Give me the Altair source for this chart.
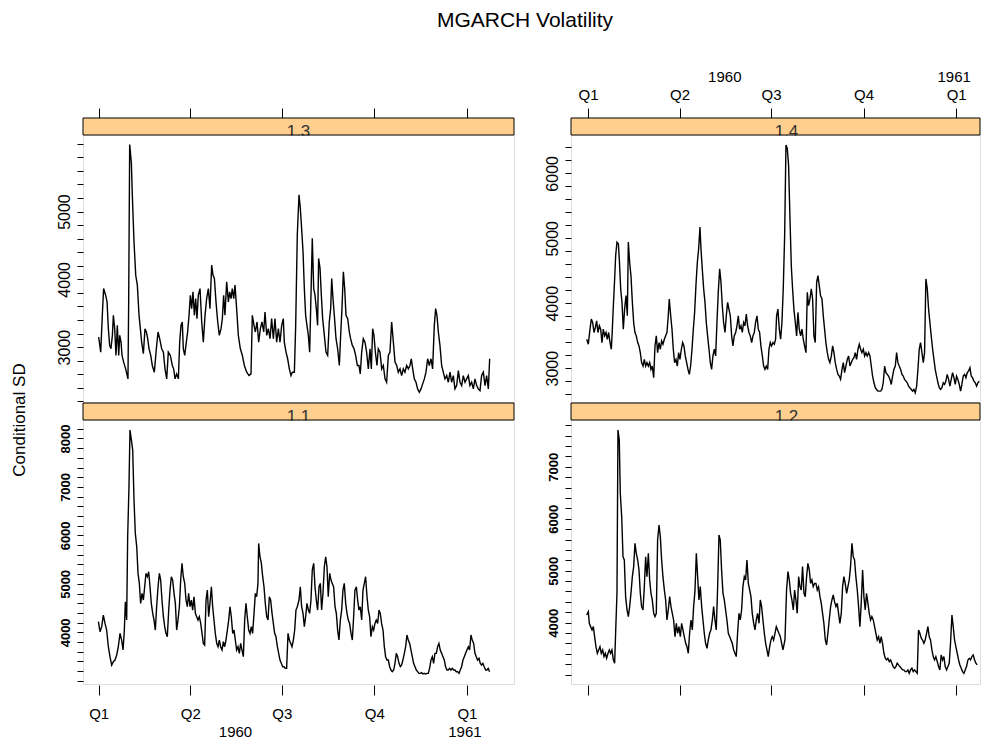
import altair as alt
import pandas as pd

FONT = "Liberation Sans"
STRIP_FILL = "#FFCF8F"

Q_DAYS = [0, 91, 182, 274, 366]
Q_LABELS = ["Q1", "Q2", "Q3", "Q4", "Q1"]
YEAR_DAYS = [136, 364]
YEAR_LABELS = ["1960", "1961"]

# (days since 1960-01-01, conditional SD)
P13 = [(0.0,3149),(2.0,2926),(3.6,3469),(4.9,3864),(6.9,3766),(8.3,3667),(9.6,3272),(10.9,3025),(12.2,2976),(13.6,3173),(14.6,3469),(15.9,3272),(17.2,2877),(18.5,3321),(19.9,2877),(20.9,3173),(22.2,3074),(23.2,2877),(24.8,2778),(26.8,2679),(29.1,2531),(29.8,3667),(30.8,5988),(32.5,5716),(33.4,5247),(35.1,4556),(36.8,4062),(38.4,3914),(40.1,3469),(41.4,3272),(42.7,3074),(44.4,2902),(46.0,3272),(47.4,3223),(48.7,3124),(50.0,2976),(51.7,2877),(53.3,2729),(55.3,2630),(57.3,2976),(59.0,3223),(60.6,3124),(62.6,2976),(64.3,2926),(65.9,2679),(67.6,2531),(69.2,2926),(71.2,2877),(73.2,2729),(74.5,2679),(75.9,2531),(77.5,2605),(79.2,2531),(80.5,3074),(81.8,3321),(83.1,3371),(84.1,2976),(85.5,2877),(87.1,3074),(88.4,3223),(89.8,3469),(91.1,3766),(92.4,3568),(93.7,3815),(95.1,3469),(96.4,3716),(97.7,3420),(99.0,3766),(100.7,3864),(102.4,3371),(104.0,3074),(105.7,3469),(107.3,3716),(109.0,3864),(110.6,3568),(112.3,4210),(113.6,4062),(115.0,4013),(116.6,3667),(118.3,3371),(119.9,3173),(121.6,3272),(122.9,3420),(124.2,3766),(125.5,3469),(127.2,3963),(128.9,3667),(130.2,3815),(131.5,3716),(132.8,3864),(134.2,3716),(135.5,3914),(137.1,3568),(138.8,3173),(140.8,2976),(142.8,2877),(144.8,2729),(147.1,2630),(149.4,2580),(151.4,2605),(152.7,3469),(154.4,3321),(155.7,3223),(157.4,3371),(159.0,3074),(160.7,3272),(162.3,3371),(164.0,3223),(165.3,3519),(167.0,3173),(168.6,3272),(170.3,3124),(171.9,3420),(173.6,3124),(175.2,3420),(176.9,3074),(178.6,3272),(180.2,3074),(181.9,3321),(183.5,3420),(184.5,3074),(186.2,2926),(187.8,2828),(189.5,2679),(191.1,2580),(192.5,2630),(194.5,2630),(195.8,3321),(197.4,4655),(199.1,5247),(200.4,5050),(201.7,4753),(203.1,4408),(204.4,3864),(205.7,3469),(207.0,3321),(208.4,3173),(209.7,2926),(211.0,3766),(212.3,4605),(213.7,3864),(215.0,3766),(216.3,3568),(217.6,3321),(218.6,4309),(220.0,4161),(221.3,3766),(222.6,3420),(224.3,3173),(225.9,2926),(227.6,2877),(229.2,3371),(230.6,3568),(231.6,4013),(232.9,3716),(234.2,3469),(235.9,3124),(237.5,2976),(239.2,2729),(240.5,3173),(241.8,3568),(243.2,4111),(244.5,3864),(245.8,3469),(247.5,3420),(249.1,3223),(250.4,3124),(252.1,3025),(253.8,2976),(255.4,2877),(257.1,2729),(258.7,2729),(260.0,2605),(261.4,2926),(263.0,3124),(264.7,3074),(266.3,2926),(268.0,2679),(269.7,2976),(271.0,2679),(272.3,3272),(273.6,3173),(275.0,2926),(276.6,2729),(277.9,2976),(279.6,2926),(281.3,2679),(282.9,2729),(284.6,2531),(286.2,2482),(287.9,2877),(289.5,2926),(291.2,3371),(292.9,3074),(294.5,2778),(296.2,2729),(297.8,2630),(299.5,2679),(301.1,2580),(302.8,2679),(304.4,2630),(306.1,2729),(307.8,2679),(309.4,2729),(310.7,2828),(312.1,2679),(313.7,2531),(315.4,2482),(317.0,2383),(318.7,2334),(320.4,2383),(322.0,2457),(323.7,2531),(325.3,2630),(327.0,2828),(328.6,2729),(330.3,2828),(331.9,2679),(333.6,3321),(334.9,3568),(336.2,3469),(337.6,3223),(339.2,3025),(340.9,2729),(342.5,2630),(344.2,2531),(345.9,2580),(347.5,2482),(349.2,2630),(350.8,2482),(352.5,2580),(354.1,2383),(355.8,2432),(357.5,2654),(359.1,2482),(360.8,2432),(362.4,2580),(364.1,2482),(365.7,2531),(367.4,2580),(369.0,2432),(370.7,2482),(372.4,2383),(374.0,2531),(375.7,2432),(377.3,2383),(379.0,2358),(380.6,2580),(382.3,2630),(384.0,2432),(385.6,2580),(387.3,2383),(388.6,2828)]

P14 = [(-1.3,3446),(0.3,3369),(2.0,3601),(3.3,3756),(4.6,3704),(6.0,3550),(7.3,3627),(8.6,3730),(9.9,3550),(11.3,3653),(12.6,3601),(13.9,3395),(15.2,3601),(16.6,3498),(17.9,3550),(19.2,3446),(20.5,3550),(21.9,3395),(23.2,3292),(24.2,3601),(25.2,3962),(26.5,4374),(27.5,4735),(28.8,4941),(30.2,4916),(31.1,4684),(32.5,4220),(33.8,4014),(35.1,3601),(36.4,3910),(37.8,4117),(39.1,3807),(40.1,4941),(41.4,4632),(42.7,4426),(44.1,4014),(45.4,3704),(46.7,3550),(48.0,3498),(49.4,3395),(50.7,3343),(52.0,3240),(53.3,3086),(54.7,3034),(56.0,3137),(57.3,3034),(58.6,3086),(60.0,3034),(61.3,3086),(62.6,2982),(63.9,3034),(65.3,2854),(66.6,3343),(67.9,3498),(69.2,3240),(70.6,3395),(71.9,3292),(73.2,3421),(74.5,3369),(75.9,3446),(77.2,3498),(78.5,3550),(79.8,3807),(80.8,4065),(82.2,3807),(83.5,3601),(84.8,3292),(86.1,3086),(87.5,3137),(88.8,3034),(90.1,3240),(91.4,3137),(92.8,3292),(94.1,3395),(95.4,3343),(96.7,3189),(98.1,3086),(99.4,2982),(100.7,2905),(102.0,3034),(103.4,3292),(104.7,3601),(106.0,3859),(107.3,4271),(108.7,4632),(110.0,4838),(111.3,5173),(112.3,4838),(113.6,4529),(115.0,4220),(116.3,4014),(117.6,3704),(118.9,3498),(120.3,3292),(121.6,3086),(122.9,2982),(124.2,3189),(125.6,3292),(126.9,3189),(128.2,3704),(129.5,4168),(130.9,4529),(132.2,4323),(133.5,3962),(134.8,3704),(136.2,3550),(137.5,3807),(138.8,4014),(140.1,3910),(141.5,3807),(142.8,3498),(144.1,3343),(145.4,3498),(146.8,3550),(148.1,3653),(149.4,3807),(150.7,3601),(152.1,3653),(153.4,3550),(154.7,3704),(156.0,3653),(157.4,3833),(158.7,3653),(160.0,3550),(161.3,3498),(162.7,3395),(164.0,3498),(165.3,3550),(166.6,3704),(168.0,3807),(169.3,3601),(170.6,3550),(171.9,3343),(173.3,3189),(174.6,3034),(175.9,2982),(177.2,3034),(178.6,2982),(179.9,3292),(181.2,3395),(182.5,3343),(183.9,3395),(185.2,3369),(186.5,3446),(187.5,3807),(188.8,3910),(190.2,3601),(191.5,3446),(192.8,3704),(194.1,4220),(195.5,5045),(196.8,6436),(198.1,6385),(199.4,6127),(200.8,5302),(202.1,4581),(203.4,4220),(204.7,3910),(206.1,3704),(207.4,3498),(208.7,3859),(210.0,3601),(211.4,3498),(212.7,3601),(214.0,3446),(215.3,3343),(216.7,3240),(218.0,4168),(219.3,3962),(220.6,4065),(222.0,4220),(223.3,4065),(224.6,3498),(225.9,3395),(227.3,4323),(228.6,4426),(229.9,4271),(231.2,4117),(232.6,4065),(233.9,3807),(235.2,3601),(236.5,3395),(237.9,3240),(239.2,3137),(240.5,3086),(241.9,3189),(243.2,3343),(244.5,3240),(245.8,3086),(247.2,2982),(248.5,2905),(249.8,2879),(251.1,2828),(252.5,2982),(253.8,3086),(255.1,2931),(256.4,3034),(257.8,3137),(259.1,3189),(260.4,3034),(261.7,3086),(263.1,3137),(264.4,3163),(265.7,3240),(267.0,3137),(268.4,3292),(269.7,3369),(271.0,3292),(272.3,3240),(273.7,3292),(275.0,3189),(276.3,3240),(277.6,3189),(279.0,3240),(280.3,3189),(281.6,3034),(282.9,2879),(284.3,2776),(285.6,2699),(286.9,2673),(288.2,2647),(289.6,2647),(290.9,2647),(292.2,2673),(293.5,2776),(294.9,3034),(296.2,2931),(297.5,2905),(298.8,2879),(300.2,2828),(301.5,2750),(302.8,2879),(304.1,2982),(305.5,3034),(306.8,3240),(308.1,3086),(309.4,3034),(310.8,2982),(312.1,2905),(313.4,2879),(314.7,2828),(316.1,2802),(317.4,2776),(318.7,2725),(320.0,2699),(321.4,2673),(322.7,2647),(324.0,2673),(325.3,2622),(326.7,2725),(328.0,2982),(329.3,3292),(330.6,3395),(332.0,3240),(333.3,3086),(334.6,3240),(335.9,4374),(337.3,4220),(338.6,3910),(339.9,3704),(341.2,3498),(342.6,3292),(343.9,3137),(345.2,2982),(346.5,2879),(347.9,2776),(349.2,2699),(350.5,2673),(351.8,2699),(353.2,2776),(354.5,2750),(355.8,2802),(357.1,2905),(358.5,2828),(359.8,2725),(361.1,2828),(362.4,2931),(363.8,2854),(365.1,2750),(366.4,2879),(367.7,2828),(369.1,2750),(370.4,2647),(371.7,2750),(373.0,2879),(374.4,2905),(375.7,2854),(377.0,2931),(378.4,2957),(379.7,3008),(381.0,2879),(382.3,2854),(383.6,2802),(385.0,2776),(386.3,2725),(387.6,2776),(389.0,2802)]

P11 = [(-0.3,4220),(1.3,4014),(3.0,4117),(4.6,4357),(6.3,4185),(7.9,4048),(9.6,3704),(11.2,3498),(12.9,3326),(14.6,3395),(16.2,3429),(17.9,3533),(19.5,3704),(21.2,3979),(22.8,3842),(24.2,3636),(25.5,4048),(26.5,4632),(27.8,4254),(28.8,5972),(30.1,7003),(31.1,8172),(32.5,7966),(33.8,7759),(35.1,6729),(36.4,6041),(37.8,5766),(39.1,5216),(40.4,5010),(41.7,4598),(43.1,4804),(44.4,4667),(45.7,4941),(47.0,5216),(48.4,5148),(49.7,5251),(51.0,4941),(52.3,4598),(53.7,4392),(55.0,4254),(56.3,4048),(57.6,4529),(59.0,4941),(60.3,5216),(61.6,5079),(62.9,4667),(64.3,4323),(65.6,4117),(66.9,3979),(68.2,3911),(69.6,4460),(70.9,4873),(72.2,5148),(73.5,5079),(74.9,4804),(76.2,4598),(77.5,4048),(78.8,4254),(80.2,4529),(81.5,5079),(82.8,5423),(84.1,5148),(85.5,5010),(86.8,4667),(88.1,4529),(89.4,4804),(90.8,4529),(92.1,4667),(93.4,4460),(94.7,4735),(96.1,4392),(97.4,4323),(98.7,4254),(100.0,4323),(101.4,4185),(102.7,3979),(104.0,3773),(105.3,3739),(106.7,4667),(108.0,4873),(109.3,4323),(110.6,4598),(112.0,4941),(113.3,4529),(114.6,4254),(115.9,3979),(117.3,3773),(118.6,3704),(119.9,3842),(121.2,3704),(122.6,3636),(123.9,3808),(125.2,3704),(126.5,3842),(127.9,4048),(129.2,4254),(130.5,4529),(131.8,4323),(133.2,3979),(134.5,4048),(135.8,3842),(137.1,3636),(138.5,3704),(139.8,3567),(141.1,3773),(142.4,3636),(143.8,3498),(145.1,4254),(146.4,4598),(147.7,4323),(149.1,4048),(150.4,3979),(151.7,4117),(153.0,3979),(154.4,4392),(155.7,4804),(157.0,4735),(158.3,5010),(159.0,5835),(160.3,5560),(161.7,5423),(163.0,5148),(164.3,4941),(165.6,4598),(167.0,4323),(168.3,4254),(169.6,4735),(170.9,4667),(172.3,4392),(173.6,4185),(174.9,3979),(176.2,3911),(177.6,3704),(178.9,3567),(180.2,3429),(181.5,3361),(182.9,3292),(184.2,3292),(185.5,3258),(186.8,3258),(188.2,3979),(189.5,3842),(190.8,3773),(192.1,3704),(193.5,3842),(194.8,4048),(196.1,4460),(197.4,4529),(199.1,4667),(200.4,4941),(201.7,4529),(203.1,4392),(204.4,4117),(205.7,4323),(207.0,4598),(208.4,4460),(209.7,4392),(211.0,4667),(212.3,5285),(213.7,5423),(215.0,4941),(216.3,4667),(217.6,4460),(219.0,4941),(220.3,5010),(221.6,4460),(222.9,4804),(224.3,5354),(225.6,5560),(226.9,5354),(228.2,4735),(229.6,5216),(230.9,5079),(232.2,5010),(233.5,4941),(234.9,4529),(236.2,4392),(237.5,4048),(238.8,3842),(240.2,4254),(241.5,4460),(242.8,4873),(244.1,5010),(245.5,4598),(246.8,4392),(248.1,4254),(249.4,4185),(250.8,3979),(252.1,3842),(253.4,4323),(254.7,4873),(256.1,4941),(257.4,4667),(258.7,4460),(260.0,4529),(261.4,4254),(262.7,4873),(264.0,5010),(265.3,5148),(266.7,4735),(268.0,4460),(269.3,4323),(270.6,3911),(272.0,4117),(273.3,4048),(274.6,4185),(275.9,4254),(277.3,4185),(278.6,4460),(279.9,4392),(281.2,4185),(282.6,4048),(283.9,3704),(285.2,3498),(286.5,3429),(287.9,3429),(289.2,3292),(290.5,3223),(291.8,3189),(293.2,3223),(294.5,3361),(295.8,3567),(297.1,3498),(298.5,3361),(299.8,3292),(301.1,3326),(302.4,3429),(303.8,3567),(305.1,3704),(306.4,3945),(307.7,3842),(309.1,3773),(310.4,3636),(311.7,3498),(313.0,3361),(314.4,3292),(315.7,3223),(317.0,3189),(318.3,3155),(319.7,3155),(321.0,3168),(322.3,3141),(323.6,3155),(325.0,3141),(326.3,3155),(327.6,3155),(328.9,3258),(330.3,3429),(331.6,3498),(332.9,3361),(334.2,3567),(335.6,3567),(336.9,3704),(338.2,3773),(339.5,3636),(340.9,3567),(342.2,3498),(343.5,3429),(344.8,3292),(346.2,3223),(347.5,3223),(348.8,3258),(350.1,3223),(351.5,3258),(352.8,3223),(354.1,3223),(355.4,3189),(356.8,3189),(358.1,3155),(359.4,3223),(360.7,3292),(362.1,3429),(363.4,3498),(364.7,3567),(366.0,3636),(367.4,3704),(368.7,3636),(370.0,3945),(371.3,3842),(372.7,3773),(374.0,3567),(375.3,3498),(376.6,3429),(378.0,3464),(379.3,3361),(380.6,3326),(381.9,3361),(383.2,3292),(384.6,3223),(385.9,3223),(387.2,3258),(388.5,3189)]

P12 = [(-1.3,4148),(0.3,4212),(1.3,3988),(2.6,3924),(4.0,3860),(5.3,3924),(6.6,3732),(7.9,3539),(9.3,3411),(10.6,3475),(11.9,3539),(13.2,3411),(14.6,3475),(15.9,3347),(17.2,3411),(18.5,3315),(19.9,3411),(21.2,3475),(22.5,3411),(23.8,3475),(25.2,3283),(26.5,3219),(27.5,3828),(28.8,4565),(29.8,7706),(31.1,7513),(32.1,6488),(33.5,6039),(34.8,5270),(36.1,5206),(37.4,4501),(38.8,4244),(40.1,4116),(41.4,4308),(42.7,4565),(44.1,4885),(45.4,5078),(46.7,5526),(48.0,5334),(49.4,5206),(50.7,5014),(52.0,4565),(53.3,4308),(54.7,4244),(56.0,4693),(57.3,5270),(58.6,4885),(60.0,5334),(61.3,4821),(62.6,4565),(63.9,4437),(65.3,4180),(66.6,4116),(67.9,4180),(69.2,5590),(70.6,5879),(71.9,5655),(73.2,5206),(74.5,4885),(75.9,4629),(77.2,4437),(78.5,4052),(79.8,4244),(81.2,4501),(82.5,4308),(83.8,4180),(85.1,4052),(86.5,3732),(87.8,3988),(89.1,3796),(90.4,3924),(91.8,3732),(93.1,3988),(94.4,3860),(95.7,3732),(97.1,3603),(98.4,3539),(99.7,3411),(101.0,3796),(102.4,4052),(103.7,3860),(105.0,4308),(106.3,4597),(107.7,5334),(109.0,4885),(110.3,4437),(111.6,4693),(113.0,4308),(114.3,4052),(115.6,3796),(116.9,3603),(118.3,3507),(119.6,3667),(120.9,3796),(122.2,3860),(123.6,4052),(124.9,4308),(126.2,4052),(127.5,3860),(128.9,4693),(130.2,5687),(131.5,5590),(132.8,5014),(134.2,4565),(135.5,4437),(136.8,4244),(138.1,4052),(139.5,3796),(140.8,3732),(142.1,3667),(143.4,3603),(144.8,3475),(146.1,3411),(147.4,3347),(148.7,3796),(150.1,4180),(151.4,4052),(152.7,4244),(154.0,4693),(155.4,4885),(156.7,4821),(158.0,5206),(159.4,4757),(160.7,4629),(162.0,4501),(163.3,4180),(164.7,3988),(166.0,3860),(167.3,4052),(168.6,4180),(170.0,3988),(171.3,4437),(172.6,4308),(173.9,4052),(175.3,3796),(176.6,3603),(177.9,3475),(179.2,3347),(180.6,3539),(181.9,3667),(183.2,3732),(184.5,3667),(185.9,3796),(187.2,3924),(188.5,3860),(189.8,3796),(191.2,3732),(192.5,3603),(193.8,3475),(195.8,3667),(197.4,4629),(198.8,4982),(200.1,4821),(201.4,4565),(202.7,4437),(204.1,4244),(205.4,4629),(206.7,4437),(208.0,4180),(209.4,4885),(210.7,4693),(212.0,4629),(213.3,5078),(214.7,4565),(216.0,4501),(217.3,4885),(218.6,5142),(220.0,5014),(221.3,4757),(222.6,4821),(223.9,4693),(225.3,4757),(226.6,4757),(227.9,4629),(229.2,4693),(230.6,4501),(231.9,4372),(233.2,4180),(234.5,3988),(235.9,3667),(237.2,3571),(238.5,3796),(239.8,4052),(241.2,4308),(242.5,4437),(243.8,4533),(245.1,4405),(246.5,4308),(247.8,4372),(249.1,4180),(250.4,3988),(251.8,4180),(253.1,4693),(254.4,4885),(255.7,4757),(257.1,4565),(258.4,4693),(259.7,4821),(261.0,5078),(262.4,5526),(263.7,5270),(265.0,5206),(266.3,4885),(267.7,4629),(269.0,4308),(270.3,3924),(271.6,4372),(273.0,5014),(274.3,4501),(275.6,4244),(276.9,4565),(278.3,4372),(279.6,4180),(280.9,4052),(282.2,4116),(283.6,4052),(284.9,3924),(286.2,3796),(287.5,3667),(288.9,3732),(290.2,3603),(291.5,3732),(292.8,3603),(294.2,3411),(295.5,3315),(296.8,3283),(298.1,3315),(299.5,3251),(300.8,3283),(302.1,3219),(303.4,3155),(304.8,3123),(306.1,3155),(307.4,3219),(308.7,3187),(310.1,3155),(311.4,3123),(312.7,3091),(314.0,3091),(315.4,3059),(316.7,3059),(318.0,3091),(319.3,3026),(320.7,3091),(322.0,3123),(323.3,3059),(324.6,3091),(326.0,3059),(327.3,3026),(328.6,3860),(329.9,3796),(331.3,3700),(332.6,3667),(333.9,3603),(335.2,3667),(336.6,3796),(337.9,3924),(339.2,3732),(340.5,3667),(341.9,3475),(343.2,3347),(344.5,3283),(345.8,3347),(347.2,3251),(348.5,3155),(349.8,3091),(351.1,3379),(352.5,3283),(353.8,3347),(355.1,3155),(356.5,3091),(357.8,3155),(359.1,3219),(360.4,3603),(361.8,4148),(363.1,3924),(364.4,3667),(365.7,3539),(367.1,3411),(368.4,3283),(369.7,3187),(371.0,3123),(372.4,3059),(373.7,3026),(375.0,3091),(376.3,3155),(377.7,3283),(379.0,3315),(380.3,3283),(381.6,3347),(383.0,3379),(384.3,3283),(385.6,3219),(386.9,3187)]

# y-axis settings per panel
Y_DOMAIN = {"1.3": [2190, 6130], "1.4": [2480, 6590], "1.1": [2935, 8380], "1.2": [2820, 7900]}
Y_TICK_RANGE = {"1.3": (2200, 6000), "1.4": (2600, 6400), "1.1": (3000, 8200), "1.2": (3000, 7800)}
Y_LABELLED = {"1.3": [3000, 4000, 5000], "1.4": [3000, 4000, 5000, 6000],
              "1.1": [4000, 5000, 6000, 7000, 8000], "1.2": [4000, 5000, 6000, 7000]}

LEFT_W, RIGHT_W = 431, 409
TOP_H, BOT_H = 267, 264
LEFT_XDOM = [-15.6, 412.8]
RIGHT_XDOM = [-16.9, 389.7]


def q_expr():
    expr = "''"
    for d, l in reversed(list(zip(Q_DAYS, Q_LABELS))):
        expr = f"datum.value == {d} ? '{l}' : ({expr})"
    return expr


def make_panel(name, pairs, width, height, xdom, strip_mid, xmode, ysize, ybold, extra=None):
    df = pd.DataFrame(pairs, columns=["day", "v"])
    common = dict(values=Q_DAYS, domain=False, grid=False, ticks=True, tickSize=10,
                  tickColor="black", tickWidth=1, title=None)
    labstyle = dict(labelExpr=q_expr(), labelFont=FONT, labelFontSize=15, labelColor="black",
                    labelFlush=False, labelOverlap=False)
    if xmode == "top":
        xaxis = alt.Axis(orient="top", offset=17, labels=False, **common)
    elif xmode == "top_lab":
        xaxis = alt.Axis(orient="top", offset=17, labels=True, labelPadding=6, **labstyle, **common)
    elif xmode == "bottom_lab":
        xaxis = alt.Axis(orient="bottom", offset=1, labels=True, labelPadding=11, **labstyle, **common)
    else:
        xaxis = alt.Axis(orient="bottom", offset=1, labels=False, **common)

    t0, t1 = Y_TICK_RANGE[name]
    yvals = list(range(t0, t1 + 1, 200))
    yaxis = alt.Axis(
        orient="left", values=yvals,
        labelExpr=f"indexof({Y_LABELLED[name]}, datum.value) >= 0 ? format(datum.value, 'd') : ''",
        labelAngle=270, labelAlign="center", labelBaseline="bottom",
        labelFont=FONT, labelFontSize=ysize, labelFontWeight="bold" if ybold else "normal",
        labelColor="black", labelPadding=5, labelOverlap=False, labelFlush=False,
        domain=False, grid=False, tickSize=6, tickColor="black", tickWidth=1, title=None)

    xscale = alt.Scale(domain=xdom, nice=False, zero=False)
    line = alt.Chart(df).mark_line(color="black", strokeWidth=1.4, clip=True).encode(
        x=alt.X("day:Q", scale=xscale, axis=xaxis),
        y=alt.Y("v:Q", scale=alt.Scale(domain=Y_DOMAIN[name], nice=False, zero=False), axis=yaxis),
    )
    sdf = pd.DataFrame({"lab": [name]})
    strip_bg = alt.Chart(sdf).mark_rect(fill=STRIP_FILL, strokeWidth=0).encode(
        x=alt.value(0), x2=alt.value(width), y=alt.value(-17), y2=alt.value(0))
    strip_txt = alt.Chart(sdf).mark_text(font=FONT, fontSize=17, color="#333333",
                                         align="center", baseline="alphabetic").encode(
        x=alt.value(strip_mid), y=alt.value(2), text="lab:N")
    mask = alt.Chart(sdf).mark_rect(fill="white", strokeWidth=0).encode(
        x=alt.value(1), x2=alt.value(width - 1), y=alt.value(0.6), y2=alt.value(6))
    strip_line = alt.Chart(sdf).mark_rect(fillOpacity=0, stroke="black", strokeWidth=1).encode(
        x=alt.value(0), x2=alt.value(width), y=alt.value(-17), y2=alt.value(0))
    layers = [strip_bg, strip_txt, mask, strip_line, line]

    if xmode in ("top_lab", "bottom_lab"):
        ydf = pd.DataFrame({"day": YEAR_DAYS, "t": YEAR_LABELS})
        ypos = -53 if xmode == "top_lab" else height + 53
        layers.append(alt.Chart(ydf).mark_text(font=FONT, fontSize=15, color="black",
                                               align="center", baseline="alphabetic").encode(
            x=alt.X("day:Q", scale=xscale), y=alt.value(ypos), text="t:N"))
    if extra is not None:
        layers.extend(extra)
    return alt.layer(*layers).properties(width=width, height=height)


tdf = pd.DataFrame({"t": ["MGARCH Volatility"]})
title_mark = alt.Chart(tdf).mark_text(font=FONT, fontSize=21, color="black",
                                      align="center", baseline="alphabetic").encode(
    x=alt.value(442), y=alt.value(-108), text="t:N")
ylab_df = pd.DataFrame({"t": ["Conditional SD"]})
ylab_mark = alt.Chart(ylab_df).mark_text(font=FONT, fontSize=17, color="black", angle=270,
                                         align="center", baseline="middle").encode(
    x=alt.value(-63), y=alt.value(285), text="t:N")

p13 = make_panel("1.3", P13, LEFT_W, TOP_H, LEFT_XDOM, LEFT_W / 2, "top", 16, False,
                 extra=[title_mark, ylab_mark])
p14 = make_panel("1.4", P14, RIGHT_W, TOP_H, RIGHT_XDOM, 215.5, "top_lab", 16, False)
p11 = make_panel("1.1", P11, LEFT_W, BOT_H, LEFT_XDOM, LEFT_W / 2, "bottom_lab", 13, True)
p12 = make_panel("1.2", P12, RIGHT_W, BOT_H, RIGHT_XDOM, 215.5, "bottom", 13, True)

chart = alt.concat(p13, p14, p11, p12, columns=2, spacing={"row": 18, "column": 57},
                   bounds="flush").properties(
    padding={"left": 2, "top": 1, "right": 0, "bottom": 0}
).configure_view(stroke="black", strokeWidth=1).configure(background="white")

chart.save("out.html", embed_options={"renderer": "svg", "actions": False})
